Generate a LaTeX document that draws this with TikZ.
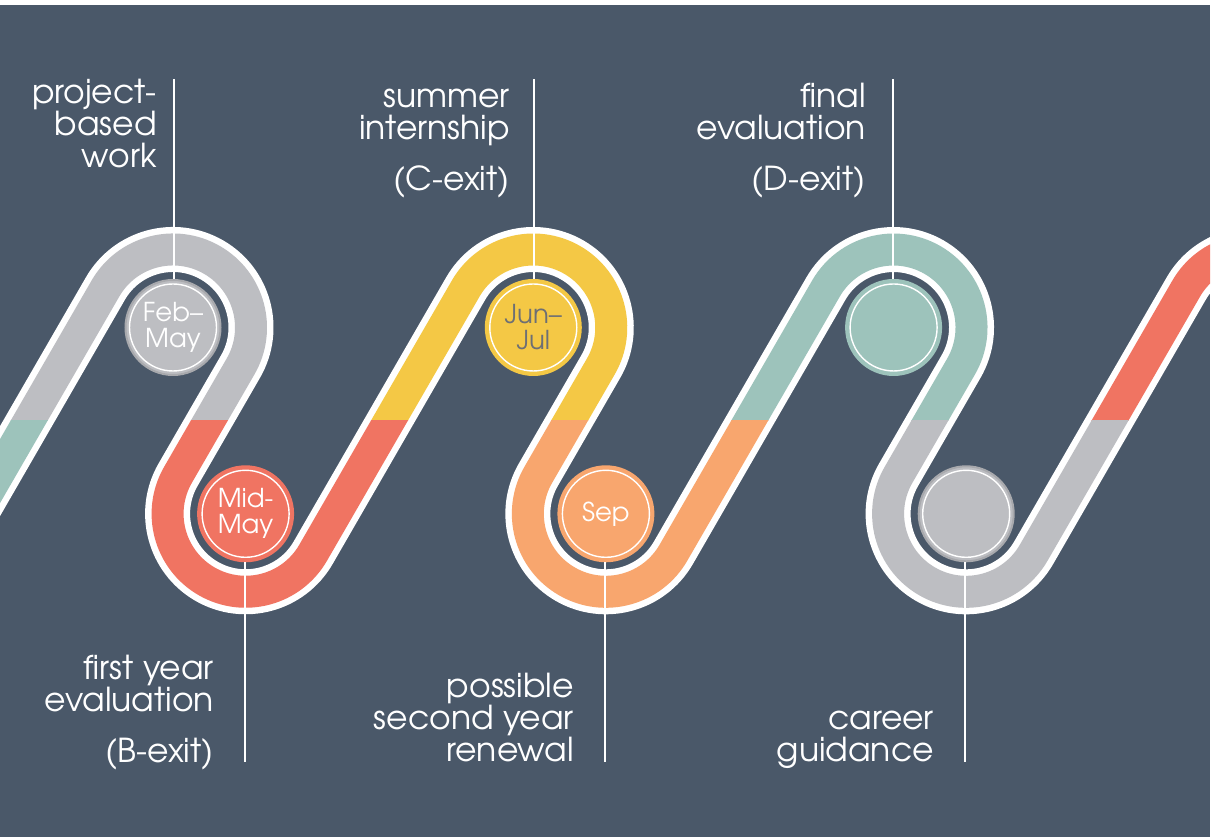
\documentclass[tikz,border=0pt]{standalone}
\usepackage{fontspec}
\setmainfont{TeX Gyre Adventor}
\definecolor{bg}{HTML}{4A5869}
\definecolor{greyroad}{HTML}{BDBEC2}
\definecolor{greyrim}{HTML}{A8A9AD}
\definecolor{coral}{HTML}{F07462}
\definecolor{sun}{HTML}{F4C845}
\definecolor{peach}{HTML}{F8A66E}
\definecolor{sage}{HTML}{9DC3BB}
\definecolor{darktext}{HTML}{6D6F74}
\tikzset{
  roadpath/.style={insert path={(173,509.5) ++(150:78) ++(240:305.1) -- ++(60:305.1)
    arc[start angle=150,end angle=-30,radius=78] -- ++(240:125)
    arc[start angle=150,end angle=330,radius=78] -- ++(60:305.1)
    arc[start angle=150,end angle=-30,radius=78] -- ++(240:125)
    arc[start angle=150,end angle=330,radius=78] -- ++(60:305.1)
    arc[start angle=150,end angle=-30,radius=78] -- ++(240:125)
    arc[start angle=150,end angle=330,radius=78] -- ++(60:305.1)
    arc[start angle=150,end angle=-30,radius=78]}},
  milestone/.style={circle, minimum size=95pt, inner sep=0pt, line width=2pt,
    font=\fontsize{26}{26}\selectfont, align=center, text=white},
  lbl/.style={text=white, align=right, font=\fontsize{33}{32}\selectfont,
    anchor=base east, inner sep=0pt},
  conn/.style={white, line width=1.6pt},
  ring/.style={white, line width=1.4pt}
}
\begin{document}
\begin{tikzpicture}[x=1pt,y=1pt]
\useasboundingbox (0,0) rectangle (1211,837);
\fill[white] (0,0) rectangle (1211,837);
\fill[bg] (0,0) rectangle (1210,832);
\begin{scope}
  \clip (0,0) rectangle (1210,832);
  \draw[white, line width=45pt, roadpath];
  \foreach \cx/\col in {173/greyroad, 533.3/sun, 893.6/sage, 1253.9/coral}{
    \begin{scope}
      \clip (\cx-180,416) rectangle (\cx+180,840);
      \draw[\col, line width=32pt, roadpath];
    \end{scope}
  }
  \foreach \cx/\col in {-114.7/sage, 245.6/coral, 605.9/peach, 966.2/greyroad}{
    \begin{scope}
      \clip (\cx-180,-5) rectangle (\cx+180,416);
      \draw[\col, line width=32pt, roadpath];
    \end{scope}
  }
\end{scope}

% milestones
\node[milestone, fill=greyroad, draw=greyrim] (feb) at (173,509.5) {Feb–\\May};
\node[milestone, fill=coral, draw=coral] (mid) at (245.6,323.2) {Mid-\\May};
\node[milestone, fill=sun, draw=sun, text=darktext] (jun) at (533.3,509.5) {Jun–\\Jul};
\node[milestone, fill=peach, draw=peach] (sep) at (605.9,323.2) {Sep};
\node[milestone, fill=sage, draw=sage] (fin) at (893.6,509.5) {};
\node[milestone, fill=greyroad, draw=greyrim] (car) at (966.2,323.2) {};
\foreach \n in {feb,mid,jun,sep,fin,car}{
  \draw[ring] (\n.center) circle[radius=43.5];
}

% connector lines
\coordinate (t1) at (174,758);
\coordinate (t2) at (534,758);
\coordinate (t3) at (893,758);
\coordinate (b1) at (245,75);
\coordinate (b2) at (605,75);
\coordinate (b3) at (965,75);
\draw[conn] (t1) -- (t1 |- feb.north);
\draw[conn] (t2) -- (t2 |- jun.north);
\draw[conn] (t3) -- (t3 |- fin.north);
\draw[conn] (b1 |- mid.south) -- (b1);
\draw[conn] (b2 |- sep.south) -- (b2);
\draw[conn] (b3 |- car.south) -- (b3);

% labels (anchored at baseline of last line)
\node[lbl] (lproj) at (157,669) {project-\\based\\work};
\node[lbl] (lsum) at (510,646) {summer\\internship\\[19pt](C-exit)};
\node[lbl] (lfin) at (866,646) {final\\evaluation\\[19pt](D-exit)};
\node[lbl] (lfirst) at (214,74) {first year\\evaluation\\[19pt](B-exit)};
\node[lbl] (lposs) at (574,75) {possible\\second year\\renewal};
\node[lbl] (lcar) at (934,75) {career\\guidance};
\end{tikzpicture}
\end{document}
